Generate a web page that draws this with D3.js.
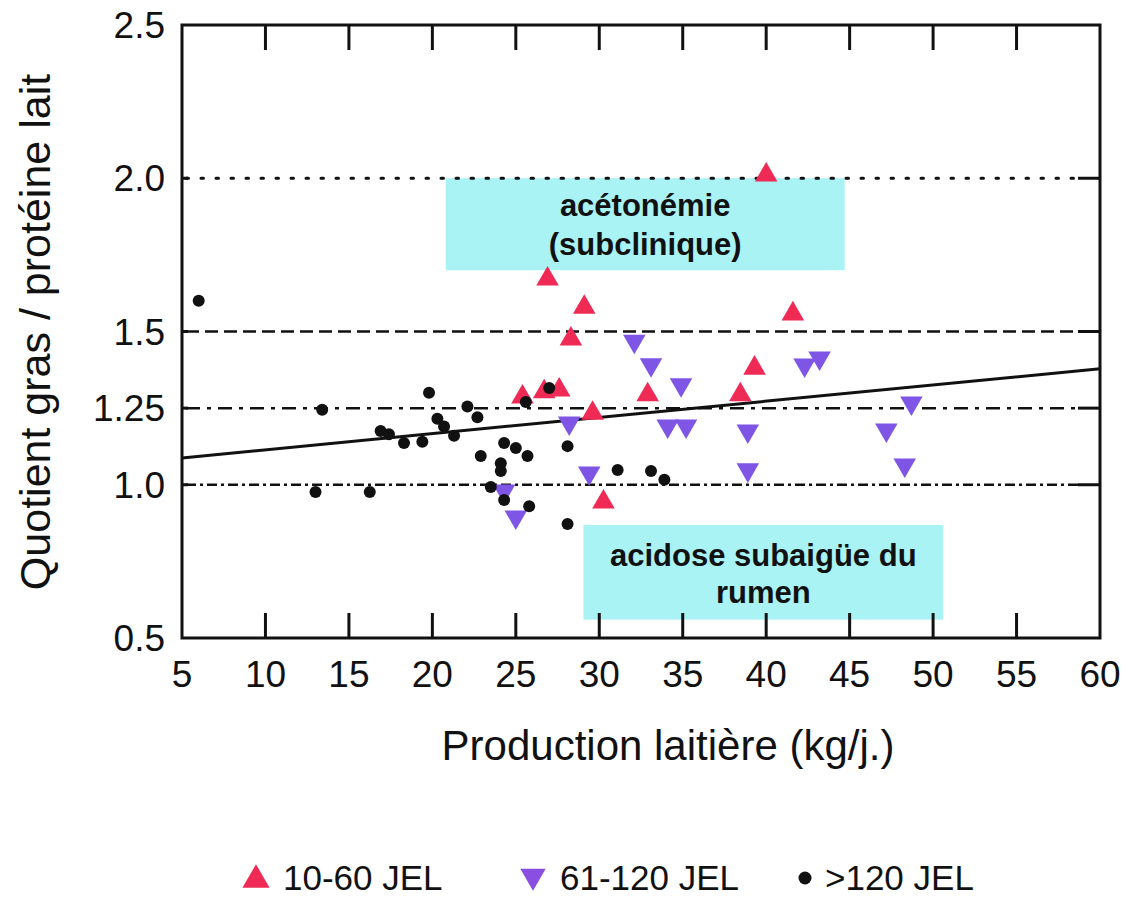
<!DOCTYPE html>
<html>
<head>
<meta charset="utf-8">
<script src="https://cdnjs.cloudflare.com/ajax/libs/d3/7.8.5/d3.min.js"></script>
<style>
  body { margin: 0; background: #fff; }
  text { font-family: "Liberation Sans", Arial, sans-serif; fill: #111; }
</style>
</head>
<body>
<svg id="chart" width="1138" height="899"></svg>
<script>
// 10-60 JEL  (production kg/j, quotient G/P)
var earlyX = [40.0, 26.9, 29.1, 28.3, 41.6, 39.3, 38.45, 32.9, 29.6, 30.25, 25.4, 26.7, 27.6];
var earlyY = [2.017, 1.678, 1.586, 1.482, 1.564, 1.387, 1.30, 1.30, 1.24, 0.95, 1.293, 1.31, 1.316];

// 61-120 JEL
var midX = [32.1, 33.1, 34.9, 34.1, 35.2, 38.9, 38.9, 29.4, 28.2, 42.3, 43.2, 25.0, 24.3, 48.7, 47.2, 48.3];
var midY = [1.462, 1.385, 1.32, 1.185, 1.185, 1.169, 1.042, 1.032, 1.195, 1.384, 1.407, 0.888, 0.973, 1.26, 1.172, 1.058];

// >120 JEL
var lateX = [6.0, 13.4, 16.9, 17.4, 18.3, 19.4, 19.8, 20.3, 20.7, 21.3, 22.1, 22.7, 13.0, 16.25, 24.3,
             25.0, 25.7, 22.9, 24.1, 24.1, 23.5, 24.3, 25.8, 28.1, 28.1, 31.1, 25.6, 27.0, 33.1, 33.9];
var lateY = [1.60, 1.245, 1.175, 1.165, 1.136, 1.14, 1.30, 1.215, 1.19, 1.16, 1.255, 1.22, 0.976, 0.976, 1.136,
             1.12, 1.094, 1.094, 1.07, 1.045, 0.993, 0.95, 0.93, 0.872, 1.126, 1.048, 1.27, 1.316, 1.045, 1.016];

// regression: intercept, slope
var regLine = [1.061, 0.00529];

var xTicks = [5, 10, 15, 20, 25, 30, 35, 40, 45, 50, 55, 60];
var yTicks = [0.5, 1.0, 1.25, 1.5, 2.0, 2.5];
var yTickLabels = ["0.5", "1.0", "1.25", "1.5", "2.0", "2.5"];
var refLevels = [2.0, 1.5, 1.25, 1.0];

// shaded zones [x0, x1, y0, y1]
var zoneKeto = [20.8, 44.7, 1.70, 2.0];
var zoneAcid = [29.05, 50.6, 0.56, 0.869];

var legendLabels = ["10-60 JEL", "61-120 JEL", ">120 JEL"];

var svg = d3.select("#chart");

var x = d3.scaleLinear().domain([5, 60]).range([182, 1100]);
var y = d3.scaleLinear().domain([0.5, 2.5]).range([638, 25]);

var ink = "#111";

// zones
[zoneKeto, zoneAcid].forEach(function (z) {
    svg.append("rect")
        .attr("x", x(z[0]))
        .attr("y", y(z[3]))
        .attr("width", x(z[1]) - x(z[0]))
        .attr("height", y(z[2]) - y(z[3]))
        .attr("fill", "#a9f3f5");
});

// zone labels
function zoneText(cx, ty, s) {
    svg.append("text").attr("x", cx).attr("y", ty)
        .attr("text-anchor", "middle")
        .style("font-weight", "bold").style("font-size", "31px")
        .text(s);
}
var ketoCx = (x(zoneKeto[0]) + x(zoneKeto[1])) / 2;
zoneText(ketoCx, y(zoneKeto[3]) + 38, "acétonémie");
zoneText(ketoCx, y(zoneKeto[3]) + 77, "(subclinique)");

var acidCx = (x(zoneAcid[0]) + x(zoneAcid[1])) / 2;
zoneText(acidCx, y(zoneAcid[3]) + 41, "acidose subaigüe du");
zoneText(acidCx, y(zoneAcid[3]) + 78, "rumen");

// reference lines
var dashes = ["2.5,12.5", "13,6", "14,7,4,7", "10,4,3,4"];
refLevels.forEach(function (v, i) {
    svg.append("line")
        .attr("x1", x(5) + 4).attr("x2", x(60) - 20)
        .attr("y1", y(v)).attr("y2", y(v))
        .attr("stroke", ink)
        .attr("stroke-width", i === 0 ? 3 : 2.5)
        .attr("stroke-linecap", i === 0 ? "round" : "butt")
        .attr("stroke-dasharray", dashes[i]);
});

// regression line
var line = d3.line()
    .x(function (d) { return x(d); })
    .y(function (d) { return y(regLine[0] + regLine[1] * d); });
svg.append("path")
    .attr("d", line([5, 60]))
    .attr("fill", "none")
    .attr("stroke", ink)
    .attr("stroke-width", 3);

// frame
svg.append("rect")
    .attr("x", x(5)).attr("y", y(2.5))
    .attr("width", x(60) - x(5)).attr("height", y(0.5) - y(2.5))
    .attr("fill", "none").attr("stroke", ink).attr("stroke-width", 3);

// x ticks (inside, bottom and top)
var innerX = xTicks.slice(1, -1);
svg.selectAll(".xtb").data(innerX).enter().append("line")
    .attr("x1", function (d) { return x(d); }).attr("x2", function (d) { return x(d); })
    .attr("y1", y(0.5)).attr("y2", y(0.5) - 25)
    .attr("stroke", ink).attr("stroke-width", 3);
svg.selectAll(".xtt").data(innerX).enter().append("line")
    .attr("x1", function (d) { return x(d); }).attr("x2", function (d) { return x(d); })
    .attr("y1", y(2.5)).attr("y2", y(2.5) + 25)
    .attr("stroke", ink).attr("stroke-width", 3);

// y ticks: short on left, longer on right
svg.selectAll(".ytl").data(refLevels).enter().append("line")
    .attr("x1", x(5)).attr("x2", x(5) + 6)
    .attr("y1", function (d) { return y(d); }).attr("y2", function (d) { return y(d); })
    .attr("stroke", ink).attr("stroke-width", 3);
svg.selectAll(".ytr").data(refLevels).enter().append("line")
    .attr("x1", x(60)).attr("x2", x(60) - 22)
    .attr("y1", function (d) { return y(d); }).attr("y2", function (d) { return y(d); })
    .attr("stroke", ink).attr("stroke-width", 3);

// tick labels
svg.selectAll(".xl").data(xTicks).enter().append("text")
    .attr("x", function (d) { return x(d); })
    .attr("y", 687)
    .attr("text-anchor", "middle")
    .style("font-size", "37px")
    .text(function (d) { return d; });

svg.selectAll(".yl").data(yTicks).enter().append("text")
    .attr("x", 165)
    .attr("y", function (d) { return y(d) + 13; })
    .attr("text-anchor", "end")
    .style("font-size", "37px")
    .text(function (d, i) { return yTickLabels[i]; });

// axis titles
svg.append("text").attr("x", 668).attr("y", 760)
    .attr("text-anchor", "middle").style("font-size", "42px")
    .text("Production laitière (kg/j.)");
svg.append("text")
    .attr("transform", "translate(50,332) rotate(-90)")
    .attr("text-anchor", "middle").style("font-size", "43px")
    .text("Quotient gras / protéine lait");

// markers
var triUp = d3.symbol().type(d3.symbolTriangle).size(220);
function pts(xs, ys) { return xs.map(function (v, i) { return [v, ys[i]]; }); }

svg.selectAll(".early").data(pts(earlyX, earlyY)).enter().append("path")
    .attr("d", triUp)
    .attr("transform", function (d) { return "translate(" + x(d[0]) + "," + (y(d[1]) + 2) + ")"; })
    .attr("fill", "#ee2a55");

svg.selectAll(".mid").data(pts(midX, midY)).enter().append("path")
    .attr("d", triUp)
    .attr("transform", function (d) { return "translate(" + x(d[0]) + "," + (y(d[1]) - 2) + ") rotate(180)"; })
    .attr("fill", "#7f55e6");

svg.selectAll(".late").data(pts(lateX, lateY)).enter().append("circle")
    .attr("cx", function (d) { return x(d[0]); })
    .attr("cy", function (d) { return y(d[1]); })
    .attr("r", 6)
    .attr("fill", ink);

// legend
var legY = 878;
svg.append("path").attr("d", d3.symbol().type(d3.symbolTriangle).size(320))
    .attr("transform", "translate(256," + (legY + 2) + ")").attr("fill", "#ee2a55");
svg.append("path").attr("d", d3.symbol().type(d3.symbolTriangle).size(280))
    .attr("transform", "translate(533," + (legY - 2) + ") rotate(180)").attr("fill", "#8a4ee0");
svg.append("circle").attr("cx", 805).attr("cy", legY).attr("r", 6.5).attr("fill", ink);

var legX = [283, 560, 825];
svg.selectAll(".lg").data(legendLabels).enter().append("text")
    .attr("x", function (d, i) { return legX[i]; })
    .attr("y", legY + 12)
    .style("font-size", "35px")
    .text(function (d) { return d; });
</script>
</body>
</html>
